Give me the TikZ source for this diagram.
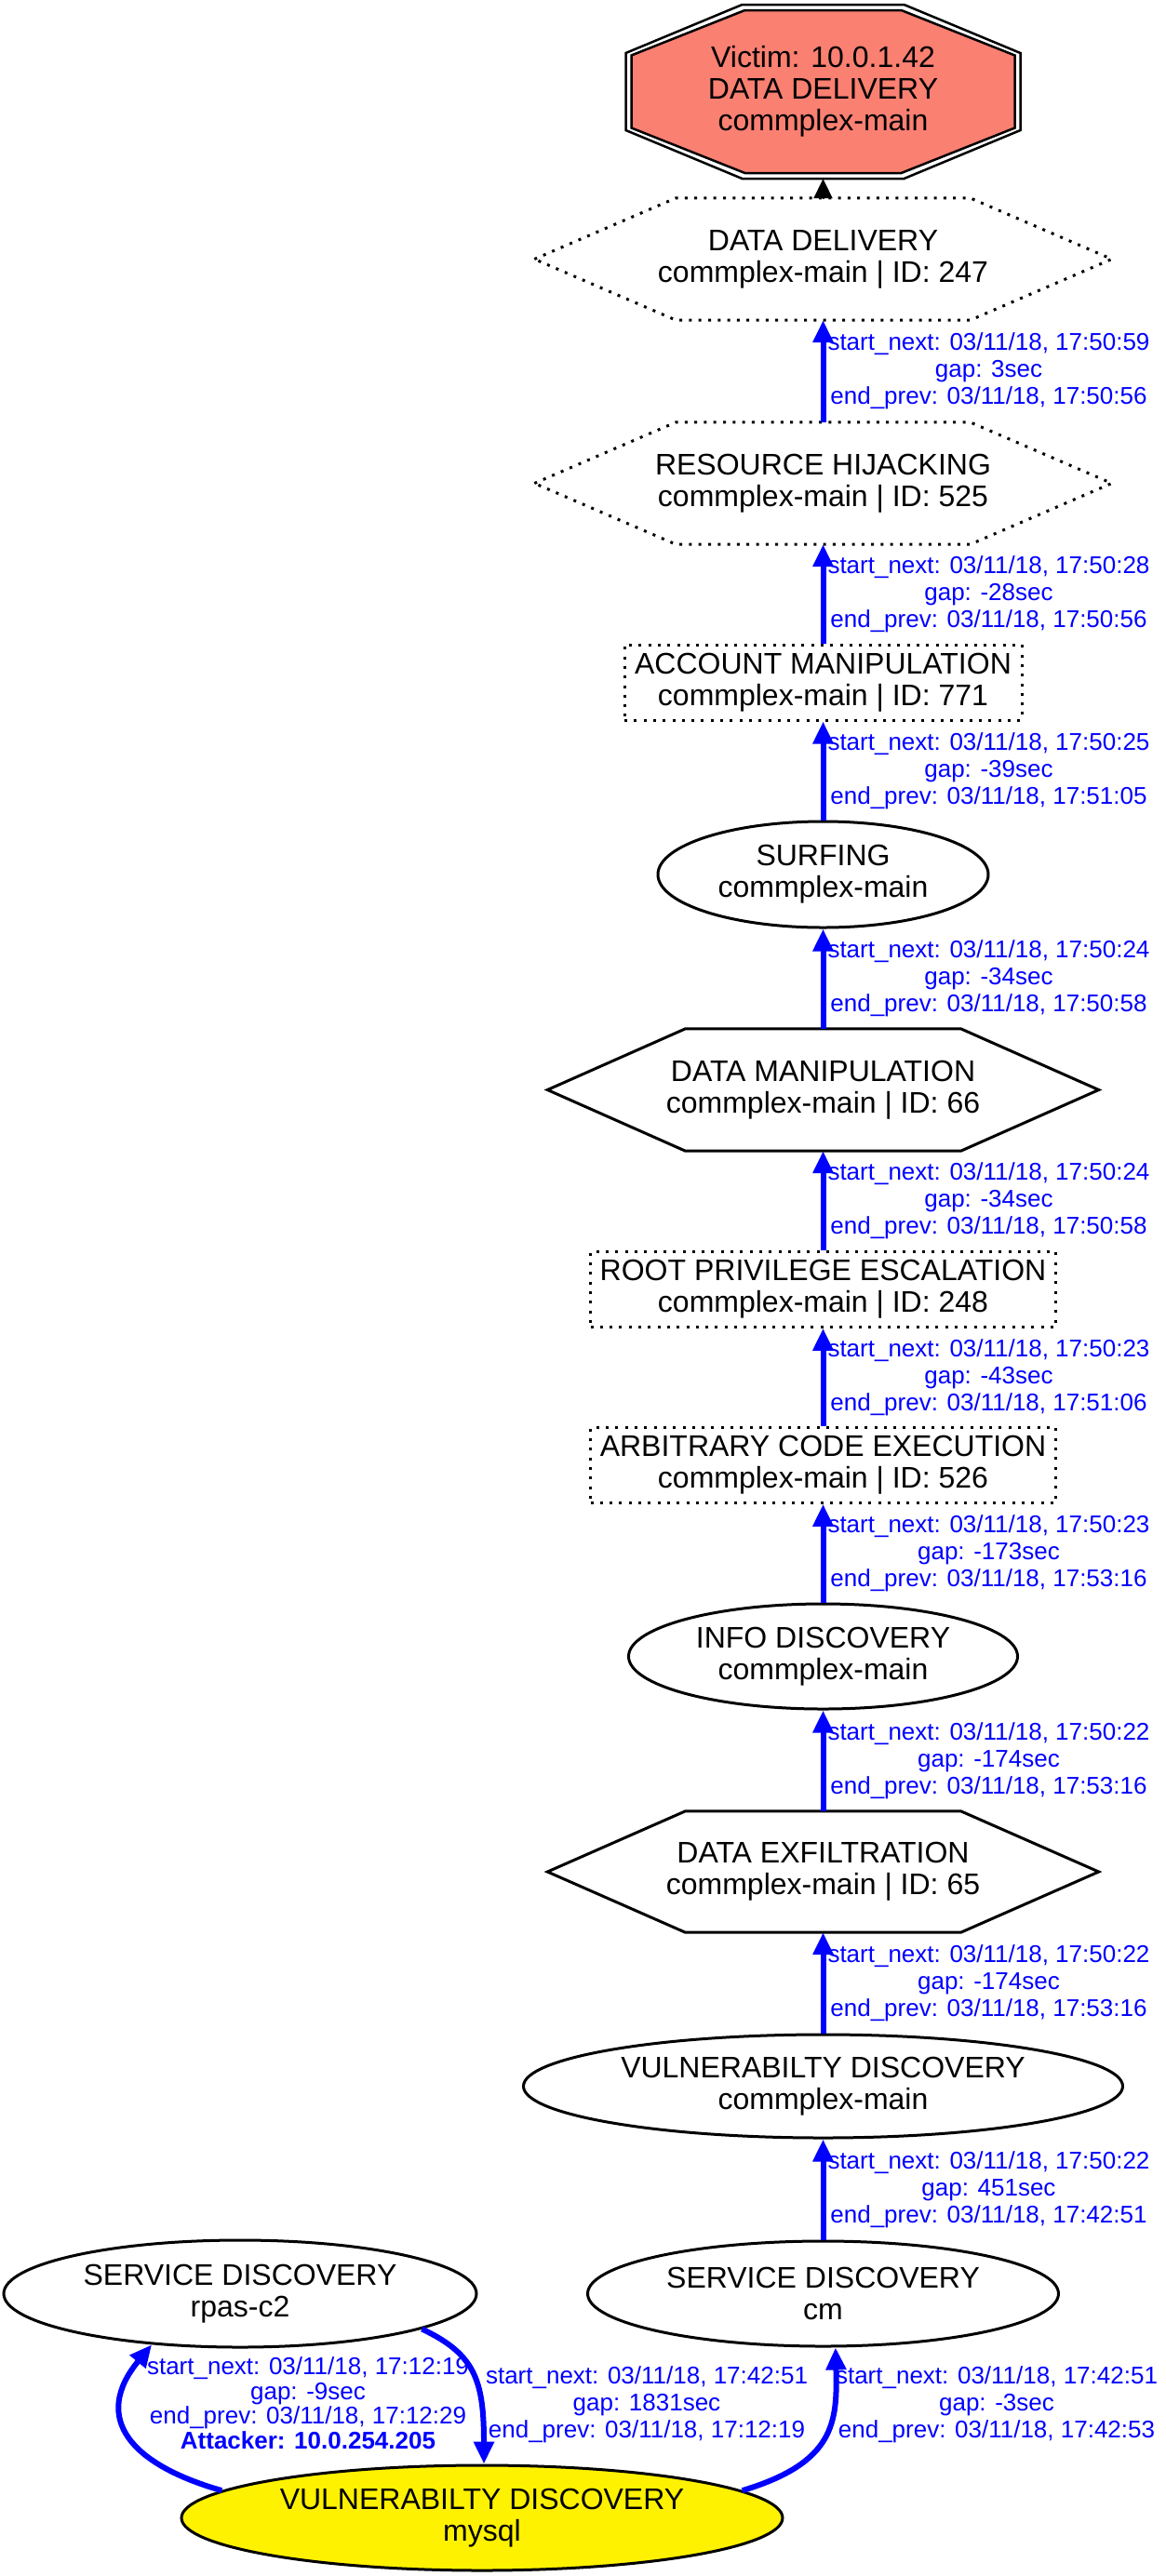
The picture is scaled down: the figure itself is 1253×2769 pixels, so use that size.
\documentclass[tikz,border=0pt]{standalone}
\usepackage{fontspec}
\setmainfont{Liberation Sans}
\usetikzlibrary{shapes.geometric,arrows.meta,calc}
\definecolor{salmonc}{HTML}{FA8072}
\begin{document}
\begin{tikzpicture}[x=1pt,y=-1pt,
  nodetext/.style={align=center,font=\fontsize{32}{34}\selectfont,inner sep=0pt},
  ell/.style={nodetext,ellipse,draw,line width=3pt},
  dotline/.style={line width=3pt,dash pattern=on 3pt off 7.3pt},
  dotbox/.style={nodetext,rectangle,draw,dotline},
  hexbox/.style={nodetext,rectangle},
  bluearrow/.style={draw=blue,line width=6pt,-{Triangle[length=24pt,width=21pt]}},
  elabel/.style={text=blue,align=center,font=\fontsize{26}{29}\selectfont,inner sep=0pt,anchor=west,xshift=2pt},
  blabel/.style={text=blue,align=center,font=\fontsize{26}{29}\selectfont,inner sep=0pt}
]
\useasboundingbox (0,0) rectangle (1253,2769);
\fill[white] (0,0) rectangle (1253,2769);

% victim octagon
\coordinate (vcen) at (884.5,98.5);
\draw[line width=2.5pt] ($(vcen)+(-87,-93.5)$) -- ($(vcen)+(87,-93.5)$) -- ($(vcen)+(212,-41.5)$) -- ($(vcen)+(212,41.5)$) -- ($(vcen)+(87,93.5)$) -- ($(vcen)+(-87,93.5)$) -- ($(vcen)+(-212,41.5)$) -- ($(vcen)+(-212,-41.5)$) -- cycle;
\draw[line width=2.5pt,fill=salmonc] ($(vcen)+(-84,-87.5)$) -- ($(vcen)+(84,-87.5)$) -- ($(vcen)+(206,-39)$) -- ($(vcen)+(206,39)$) -- ($(vcen)+(84,87.5)$) -- ($(vcen)+(-84,87.5)$) -- ($(vcen)+(-206,39)$) -- ($(vcen)+(-206,-39)$) -- cycle;
\node[nodetext,minimum width=424,minimum height=187] (victim) at (vcen) {Victim: 10.0.1.42\\DATA DELIVERY\\commplex-main};

% hexagons
\node[hexbox,minimum width=620,minimum height=131] (dd) at (884.5,278.5) {DATA DELIVERY\\commplex-main | ID: 247};
\draw[dotline] (dd.west) -- ($(dd.north)+(-158,0)$) -- ($(dd.north)+(158,0)$) -- (dd.east) -- ($(dd.south)+(158,0)$) -- ($(dd.south)+(-158,0)$) -- cycle;

\node[hexbox,minimum width=620,minimum height=131] (rh) at (884.5,519.5) {RESOURCE HIJACKING\\commplex-main | ID: 525};
\draw[dotline] (rh.west) -- ($(rh.north)+(-158,0)$) -- ($(rh.north)+(158,0)$) -- (rh.east) -- ($(rh.south)+(158,0)$) -- ($(rh.south)+(-158,0)$) -- cycle;

\node[dotbox,minimum width=427,minimum height=81] (am) at (884.5,733.5) {ACCOUNT MANIPULATION\\commplex-main | ID: 771};

\node[ell,minimum width=355,minimum height=114] (surf) at (884.5,940) {SURFING\\commplex-main};

\node[hexbox,minimum width=592,minimum height=131] (dm) at (884.5,1171.5) {DATA MANIPULATION\\commplex-main | ID: 66};
\draw[line width=3pt] (dm.west) -- ($(dm.north)+(-148,0)$) -- ($(dm.north)+(148,0)$) -- (dm.east) -- ($(dm.south)+(148,0)$) -- ($(dm.south)+(-148,0)$) -- cycle;

\node[dotbox,minimum width=500,minimum height=80.5] (root) at (884.5,1386) {ROOT PRIVILEGE ESCALATION\\commplex-main | ID: 248};
\node[dotbox,minimum width=500,minimum height=80.5] (ace) at (884.5,1575) {ARBITRARY CODE EXECUTION\\commplex-main | ID: 526};

\node[ell,minimum width=418,minimum height=113] (info) at (884.5,1780.5) {INFO DISCOVERY\\commplex-main};

\node[hexbox,minimum width=592,minimum height=130] (exf) at (884.5,2012) {DATA EXFILTRATION\\commplex-main | ID: 65};
\draw[line width=3pt] (exf.west) -- ($(exf.north)+(-148,0)$) -- ($(exf.north)+(148,0)$) -- (exf.east) -- ($(exf.south)+(148,0)$) -- ($(exf.south)+(-148,0)$) -- cycle;

\node[ell,minimum width=644,minimum height=111] (vc) at (884.5,2242.5) {VULNERABILTY DISCOVERY\\commplex-main};
\node[ell,minimum width=506,minimum height=113] (cm) at (884.5,2465.5) {SERVICE DISCOVERY\\cm};
\node[ell,minimum width=508,minimum height=115] (rpas) at (258,2465.5) {SERVICE DISCOVERY\\rpas-c2};
\node[ell,fill=yellow,minimum width=646,minimum height=113] (mysql) at (518,2706.5) {VULNERABILTY DISCOVERY\\mysql};

% edges
\draw[line width=2pt,-{Triangle[length=21pt,width=20pt]}] (dd.north) -- (victim.south);

\draw[bluearrow] (rh.north) -- node[elabel] {start\_next: 03/11/18, 17:50:59\\gap: 3sec\\end\_prev: 03/11/18, 17:50:56} (dd.south);
\draw[bluearrow] (am.north) -- node[elabel] {start\_next: 03/11/18, 17:50:28\\gap: -28sec\\end\_prev: 03/11/18, 17:50:56} (rh.south);
\draw[bluearrow] (surf.north) -- node[elabel] {start\_next: 03/11/18, 17:50:25\\gap: -39sec\\end\_prev: 03/11/18, 17:51:05} (am.south);
\draw[bluearrow] (dm.north) -- node[elabel] {start\_next: 03/11/18, 17:50:24\\gap: -34sec\\end\_prev: 03/11/18, 17:50:58} (surf.south);
\draw[bluearrow] (root.north) -- node[elabel] {start\_next: 03/11/18, 17:50:24\\gap: -34sec\\end\_prev: 03/11/18, 17:50:58} (dm.south);
\draw[bluearrow] (ace.north) -- node[elabel] {start\_next: 03/11/18, 17:50:23\\gap: -43sec\\end\_prev: 03/11/18, 17:51:06} (root.south);
\draw[bluearrow] (info.north) -- node[elabel] {start\_next: 03/11/18, 17:50:23\\gap: -173sec\\end\_prev: 03/11/18, 17:53:16} (ace.south);
\draw[bluearrow] (exf.north) -- node[elabel] {start\_next: 03/11/18, 17:50:22\\gap: -174sec\\end\_prev: 03/11/18, 17:53:16} (info.south);
\draw[bluearrow] (vc.north) -- node[elabel] {start\_next: 03/11/18, 17:50:22\\gap: -174sec\\end\_prev: 03/11/18, 17:53:16} (exf.south);
\draw[bluearrow] (cm.north) -- node[elabel] {start\_next: 03/11/18, 17:50:22\\gap: 451sec\\end\_prev: 03/11/18, 17:42:51} (vc.south);

\draw[bluearrow] (mysql.174) .. controls +(-98,-28) and +(-65,79) .. (rpas.210);
\draw[bluearrow] (rpas.-11) .. controls +(57,27) and +(0,-90) .. (mysql.88);
\draw[bluearrow] (mysql.6.7) .. controls +(100,-30) and +(2,80) .. (cm.-77.6);

\node[blabel,font=\fontsize{26}{26.5}\selectfont] (lab1) at (331,2583) {start\_next: 03/11/18, 17:12:19\\gap: -9sec\\end\_prev: 03/11/18, 17:12:29\\\textbf{Attacker: 10.0.254.205}};
\node[blabel] (lab2) at (695,2585) {start\_next: 03/11/18, 17:42:51\\gap: 1831sec\\end\_prev: 03/11/18, 17:12:19};
\node[blabel] (lab3) at (1071,2585) {start\_next: 03/11/18, 17:42:51\\gap: -3sec\\end\_prev: 03/11/18, 17:42:53};
\end{tikzpicture}
\end{document}
